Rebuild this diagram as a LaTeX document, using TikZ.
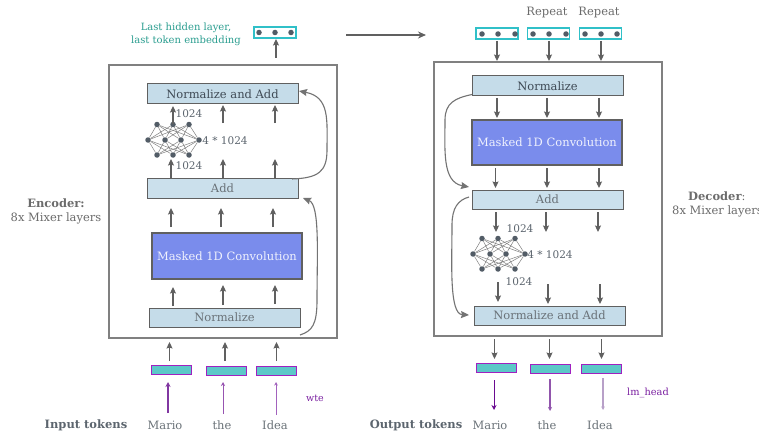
\documentclass[tikz,border=0pt]{standalone}
\usepackage{fontspec}
\setmainfont{DejaVu Serif}
\usetikzlibrary{arrows.meta}
\definecolor{lbA}{HTML}{C5DCE9}
\definecolor{lbB}{HTML}{CBE0EC}
\definecolor{bluebox}{HTML}{7A8CEC}
\definecolor{edge}{HTML}{606060}
\definecolor{txtd}{HTML}{3F4A55}
\definecolor{txtg}{HTML}{6A7278}
\definecolor{tealt}{HTML}{2A9D8F}
\definecolor{tealb}{HTML}{30C0C8}
\definecolor{tealf}{HTML}{5CC8C8}
\definecolor{purp}{HTML}{A020C0}
\definecolor{purt}{HTML}{7A1FA0}
\definecolor{purd}{HTML}{6A0A90}
\definecolor{purl}{HTML}{B8A0C8}
\tikzset{
  x=1pt,y=-1pt,
  every node/.style={font=\fontsize{11.5}{14}\selectfont},
  frame/.style={draw=black!50,line width=1.8pt,fill=white,anchor=north west,inner sep=0,outer sep=0},
  block/.style={draw=edge,line width=1pt,anchor=north west,inner sep=0,outer sep=0,align=center},
  lblock/.style={block,fill=lbA},
  ablock/.style={block,fill=lbB,text=txtg},
  mblock/.style={block,fill=bluebox,line width=1.5pt,text=white!88!bluebox},
  embox/.style={draw=tealb,line width=1.2pt,fill=white,anchor=north west,inner sep=0,outer sep=0,minimum width=42pt,minimum height=11pt},
  tokbox/.style={draw=purp,line width=1pt,fill=tealf,anchor=north west,inner sep=0,outer sep=0,minimum width=40pt,minimum height=9pt},
  dotn/.style={circle,fill=txtd!90,inner sep=0,minimum size=5.5pt},
  flow/.style={draw=edge,line width=1.1pt,-{Stealth[length=6.5pt,width=6pt,inset=1pt]}},
  skip/.style={draw=black!55,line width=1.1pt,-{Stealth[length=8pt,width=7pt,inset=1pt]}},
  token/.style={text=txtg,font=\fontsize{11.5}{14}\selectfont},
  side/.style={text=black!58,align=center},
  nlab/.style={text=txtd!85,font=\fontsize{10.5}{13}\selectfont},
}
% straight connector between two named free ends
\newcommand{\conn}[5][flow]{%
  \coordinate (#2s) at (#3,#4);\coordinate (#2e) at (#3,#5);
  \draw[#1] (#2s) -- (#2e);}
% small neural net
\newcommand{\nnet}[7]{%
  \foreach \i/\x in {1/#2,2/#3,3/#4}{\node[dotn] (#1t\i) at (\x,#6-15.5) {};\node[dotn] (#1b\i) at (\x,#6+15) {};}
  \foreach \i/\x in {1/#7,2/#2+8,3/#3+8,4/#5}{\node[dotn] (#1m\i) at (\x,#6) {};}
  \foreach \i in {1,2,3}\foreach \j in {1,2,3,4}{
    \draw[black!50,line width=.5pt] (#1t\i) -- (#1m\j);
    \draw[black!50,line width=.5pt] (#1b\i) -- (#1m\j);}
}
\begin{document}
\begin{tikzpicture}
\useasboundingbox (0,0) rectangle (759,433);
% frames
\node[frame,minimum width=228pt,minimum height=273pt] (encf) at (109,65) {};
\node[frame,minimum width=228pt,minimum height=274pt] (decf) at (434,62) {};
% encoder blocks
\node[lblock,minimum width=151pt,minimum height=20pt,text=txtd] (eNA) at (147,84) {Normalize and Add};
\node[ablock,minimum width=151pt,minimum height=20pt] (eAdd) at (147,178) {Add};
\node[mblock,minimum width=150pt,minimum height=46pt] (eM) at (152,233) {Masked 1D Convolution};
\node[lblock,minimum width=151pt,minimum height=19pt,text=txtg] (eN) at (149,308) {Normalize};
\node[embox] (eE) at (254,27) {};
\foreach \i/\x in {1/259,2/275,3/291}{\node[dotn] (eEd\i) at (\x,32.5) {};}
\nnet{en}{157}{173}{189}{199}{140}{148}
\conn{a1}{173}{124}{106}
\conn{a2}{223}{123}{105}
\conn{a3}{275}{123}{105}
\conn{a4}{171}{178}{159}
\conn{a5}{223}{178}{159}
\conn{a6}{275}{178}{159}
\conn{a7}{171}{227}{208}
\conn{a8}{221}{227}{208}
\conn{a9}{273}{227}{208}
\conn{a10}{173}{306}{287}
\conn{a11}{223}{305}{285}
\conn{a12}{275}{304}{285}
\conn{a13}{169.5}{361}{342}
\conn{a14}{225}{361}{342}
\conn{a15}{276.5}{361}{342}
\conn{a16}{276}{58}{39}
\node[nlab] (l1) at (189,114) {1024};
\node[nlab] (l2) at (189,166) {1024};
\node[nlab] (l3) at (225,141) {4 * 1024};
\node[tokbox] (et1) at (151,365) {};
\node[tokbox] (et2) at (206,366) {};
\node[tokbox] (et3) at (256,366) {};
\conn[draw=purd!70!purl,line width=1.1pt,-{Stealth[length=5pt,width=5pt]}]{p1}{168}{413}{382}
\conn[draw=purd!70,line width=.8pt,-{Stealth[length=4pt,width=4pt]}]{p2}{223}{414}{382}
\conn[draw=purt!70,line width=.7pt,-{Stealth[length=3.5pt,width=3.5pt]}]{p3}{276}{415}{382}
% encoder skips
\draw[skip] ([xshift=-6pt,yshift=-1pt]eAdd.north east) .. controls (318,178) and (327,172) .. (327,150) .. controls (327,120) and (330,97) .. ([xshift=1pt,yshift=-7pt]eNA.north east);
\coordinate (c1) at (300,335);
\draw[skip] (c1) .. controls (312,331) and (317,325) .. (317,300) .. controls (317,255) and (320,205) .. ([xshift=5pt]eAdd.south east);
% labels
\node[text=tealt,align=center,font=\fontsize{10}{13}\selectfont] (tl) at (186,34.5) {Last hidden layer,\\last token embedding};
\node[side] (enc) at (56,211) {\textbf{Encoder:}\\8x Mixer layers};
\node[text=txtd!85,font=\fontsize{11.5}{14}\selectfont\bfseries] (it) at (86,425) {Input tokens};
\node[token] (t1) at (165,425.5) {Mario};
\node[token] (t2) at (222,425.5) {the};
\node[token] (t3) at (275,425.5) {Idea};
\node[text=purt,font=\fontsize{9.5}{11}\selectfont] (wte) at (315,398) {wte};
% top transition
\coordinate (ta) at (346,35);\coordinate (tb) at (426,35);
\draw[edge,line width=1.4pt,-{Stealth[length=8pt,width=7pt]}] (ta) -- (tb);
% decoder blocks
\node[lblock,minimum width=151pt,minimum height=20pt,text=txtd] (dN) at (472,76) {Normalize};
\node[mblock,minimum width=150pt,minimum height=45pt] (dM) at (472,120) {Masked 1D Convolution};
\node[ablock,minimum width=151pt,minimum height=19pt] (dAdd) at (472,190) {Add};
\node[lblock,minimum width=151pt,minimum height=19pt,text=txtg] (dNA) at (474,306) {Normalize and Add};
\foreach \n/\x/\a/\b/\c in {1/476/482/498/515,2/527.5/533/549/566,3/579.5/585/601/617}{
  \node[embox] (dE\n) at (\x,28) {};
  \node[dotn] (dE\n a) at (\a,34) {};\node[dotn] (dE\n b) at (\b,34) {};\node[dotn] (dE\n c) at (\c,34) {};
}
\nnet{dn}{482}{498}{515}{525}{254}{473}
\conn{b1}{497}{41}{61}
\conn{b2}{549}{41}{61}
\conn{b3}{601}{41}{61}
\conn{b4}{497}{98}{118}
\conn{b5}{547}{98}{118}
\conn{b6}{599}{98}{118}
\conn{b7}{495.5}{168}{188}
\conn{b8}{547}{168}{188}
\conn{b9}{599}{168}{188}
\conn{b10}{496}{212}{232}
\conn{b11}{546}{212}{232}
\conn{b12}{598}{212}{232}
\conn{b13}{498}{282}{302}
\conn{b14}{548}{284}{304}
\conn{b15}{600}{284}{304}
\conn{b16}{494.5}{339}{359}
\conn{b17}{549.5}{339}{359}
\conn{b18}{601.5}{339}{359}
\node[nlab] (m1) at (520,229) {1024};
\node[nlab] (m2) at (519,282) {1024};
\node[nlab] (m3) at (550,255) {4 * 1024};
\node[tokbox] (dt1) at (476,363) {};
\node[tokbox] (dt2) at (530.5,364) {};
\node[tokbox] (dt3) at (581,364) {};
\conn[draw=purd,line width=.9pt,-{Stealth[length=5pt,width=5pt]}]{q1}{494}{380}{410}
\conn[draw=purd!50!purl,line width=1.1pt,-{Stealth[length=4pt,width=4pt]}]{q2}{550}{379}{411}
\conn[draw=purl,line width=1.1pt,-{Stealth[length=3.5pt,width=3.5pt]}]{q3}{603}{378}{410}
% decoder skips
\draw[skip] ([yshift=1.5pt]dN.south west) .. controls (455,98) and (445,103) .. (445,120) .. controls (445,150) and (442,182) .. ([xshift=-3pt,yshift=3pt]dAdd.north west);
\draw[skip] ([xshift=-3pt,yshift=-7pt]dAdd.north west) .. controls (458,200) and (452,208) .. (452,225) .. controls (452,262) and (449,314) .. ([xshift=-5pt,yshift=-9pt]dNA.north west);
% decoder labels
\node[side] (rp1) at (547,13) {Repeat};
\node[side] (rp2) at (599,13) {Repeat};
\node[side,anchor=west,inner sep=0,align=left] (dec) at (672,204) {\hspace*{16pt}\textbf{Decoder}:\\8x Mixer layers};
\node[text=txtd!85,font=\fontsize{11.5}{14}\selectfont\bfseries] (ot) at (416,425) {Output tokens};
\node[token] (u1) at (490,425.5) {Mario};
\node[token] (u2) at (547,425.5) {the};
\node[token] (u3) at (600,425.5) {Idea};
\node[text=purt,font=\fontsize{9.8}{11}\selectfont] (lm) at (648,393) {lm\_head};
\end{tikzpicture}
\end{document}
